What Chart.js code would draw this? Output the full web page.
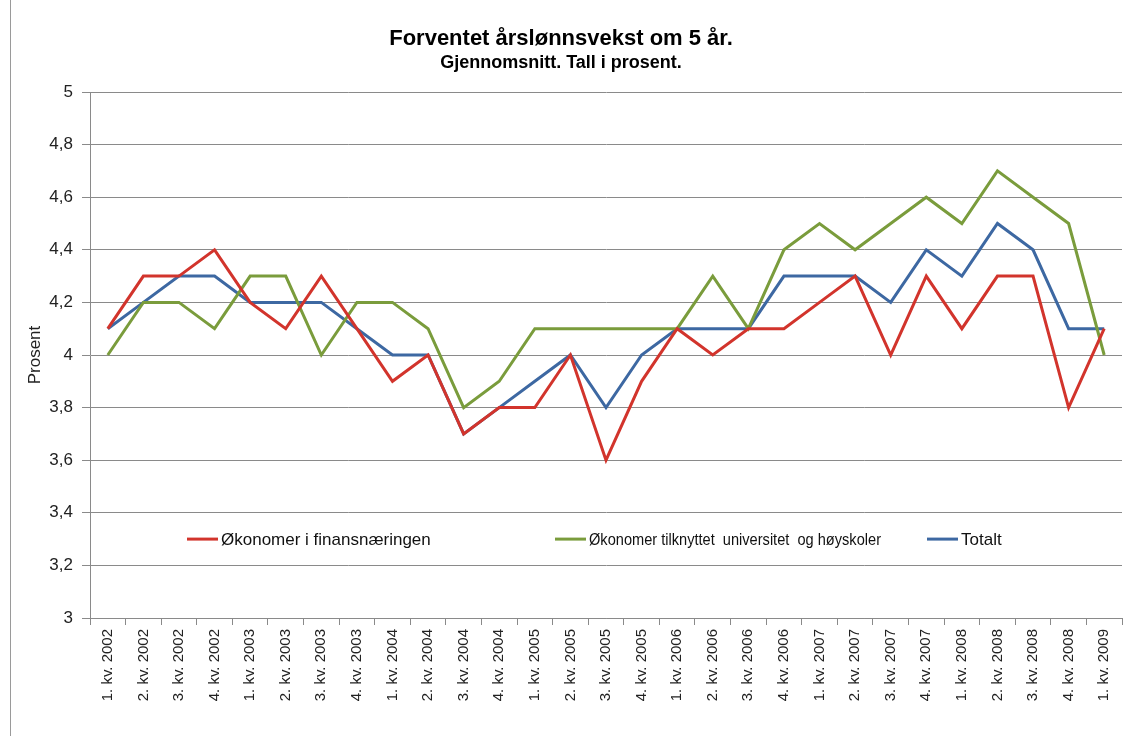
<!DOCTYPE html>
<html>
<head>
<meta charset="utf-8">
<script src="https://cdn.jsdelivr.net/npm/chart.js@4"></script>
<style>
  html, body { margin: 0; padding: 0; background: #fff; }
  #wrap { position: absolute; left: 0; top: 0; width: 1130px; height: 736px; }
  #frame { position: absolute; left: 10px; top: 0; width: 1130px; height: 736px; border-left: 1px solid #9a9a9a; box-sizing: border-box; pointer-events: none; }
</style>
</head>
<body>
<div id="wrap"><canvas id="chart" width="1130" height="736"></canvas></div>
<div id="frame"></div>
<script>
// categories (quarters)
const categories = [
    '1. kv. 2002', '2. kv. 2002', '3. kv. 2002', '4. kv. 2002',
    '1. kv. 2003', '2. kv. 2003', '3. kv. 2003', '4. kv. 2003',
    '1. kv. 2004', '2. kv. 2004', '3. kv. 2004', '4. kv. 2004',
    '1. kv. 2005', '2. kv. 2005', '3. kv. 2005', '4. kv. 2005',
    '1. kv. 2006', '2. kv. 2006', '3. kv. 2006', '4. kv. 2006',
    '1. kv. 2007', '2. kv. 2007', '3. kv. 2007', '4. kv. 2007',
    '1. kv. 2008', '2. kv. 2008', '3. kv. 2008', '4. kv. 2008',
    '1. kv. 2009'
];

// series values
const finans = [4.1, 4.3, 4.3, 4.4, 4.2, 4.1, 4.3, 4.1, 3.9, 4.0, 3.7, 3.8, 3.8, 4.0, 3.6, 3.9,
                4.1, 4.0, 4.1, 4.1, 4.2, 4.3, 4.0, 4.3, 4.1, 4.3, 4.3, 3.8, 4.1];
const universitet = [4.0, 4.2, 4.2, 4.1, 4.3, 4.3, 4.0, 4.2, 4.2, 4.1, 3.8, 3.9, 4.1, 4.1, 4.1, 4.1,
                     4.1, 4.3, 4.1, 4.4, 4.5, 4.4, 4.5, 4.6, 4.5, 4.7, 4.6, 4.5, 4.0];
const totalt = [4.1, 4.2, 4.3, 4.3, 4.2, 4.2, 4.2, 4.1, 4.0, 4.0, 3.7, 3.8, 3.9, 4.0, 3.8, 4.0,
                4.1, 4.1, 4.1, 4.3, 4.3, 4.3, 4.2, 4.4, 4.3, 4.5, 4.4, 4.1, 4.1];

// tick labels
const yTicks = [3, 3.2, 3.4, 3.6, 3.8, 4, 4.2, 4.4, 4.6, 4.8, 5];

const seriesNames = ['Økonomer i finansnæringen', 'Økonomer tilknyttet  universitet  og høyskoler', 'Totalt'];
const seriesColors = ['#d2342c', '#7a9c3c', '#3d68a2'];

const FONT = "'Liberation Sans', Arial, sans-serif";

// legend drawn inside the plot area, like the original
const innerLegend = {
    id: 'innerLegend',
    afterDatasetsDraw(chart) {
        const ctx = chart.ctx;
        const y = chart.scales.y.getPixelForValue(3.3);
        const starts = [187, 555, 927];
        const maxW = [218, 292, 44];
        ctx.save();
        ctx.font = '17px ' + FONT;
        ctx.textBaseline = 'middle';
        chart.data.datasets.forEach((ds, i) => {
            const x = starts[i];
            ctx.strokeStyle = ds.borderColor;
            ctx.lineWidth = 3;
            ctx.beginPath();
            ctx.moveTo(x, y);
            ctx.lineTo(x + 31, y);
            ctx.stroke();
            ctx.fillStyle = '#111';
            ctx.fillText(ds.label, x + 34, y + 1, maxW[i]);
        });
        ctx.restore();
    }
};

const ctx = document.getElementById('chart').getContext('2d');
new Chart(ctx, {
    type: 'line',
    data: {
        labels: categories,
        datasets: [finans, universitet, totalt].map((d, i) => ({
            label: seriesNames[i],
            data: d,
            borderColor: seriesColors[i],
            backgroundColor: seriesColors[i],
            borderWidth: 3,
            pointRadius: 0,
            tension: 0,
            fill: false
        }))
    },
    options: {
        responsive: false,
        animation: false,
        layout: { padding: { left: 0, right: 8, top: 0, bottom: 0 } },
        plugins: {
            legend: { display: false },
            tooltip: { enabled: false },
            title: {
                display: true,
                text: 'Forventet årslønnsvekst om 5 år.',
                color: '#000',
                font: { family: FONT, size: 22, weight: 'bold' },
                padding: { top: 26, bottom: 0 }
            },
            subtitle: {
                display: true,
                text: 'Gjennomsnitt. Tall i prosent.',
                color: '#000',
                font: { family: FONT, size: 18, weight: 'bold' },
                padding: { top: 0, bottom: 18 }
            }
        },
        scales: {
            x: {
                offset: true,
                grid: { display: true, drawOnChartArea: false, drawTicks: true, tickLength: 7, color: '#8a8a8a', offset: true },
                border: { display: true, color: '#8a8a8a' },
                ticks: {
                    color: '#222',
                    font: { family: FONT, size: 15 },
                    maxRotation: 90,
                    minRotation: 90,
                    autoSkip: false,
                    padding: 4
                },
                afterFit(scale) { scale.height = 118; }
            },
            y: {
                min: 3,
                max: 5,
                afterBuildTicks(scale) { scale.ticks = yTicks.map(v => ({ value: v })); },
                grid: { color: '#8a8a8a', tickLength: 8 },
                border: { display: true, color: '#8a8a8a' },
                ticks: {
                    color: '#222',
                    font: { family: FONT, size: 17 },
                    padding: 9,
                    callback: v => String(v).replace('.', ',')
                },
                title: {
                    display: true,
                    text: 'Prosent',
                    color: '#222',
                    font: { family: FONT, size: 17 },
                    padding: { top: 25, bottom: 0 }
                },
                afterFit(scale) { scale.width = 90; }
            }
        }
    },
    plugins: [innerLegend]
});
</script>
</body>
</html>
